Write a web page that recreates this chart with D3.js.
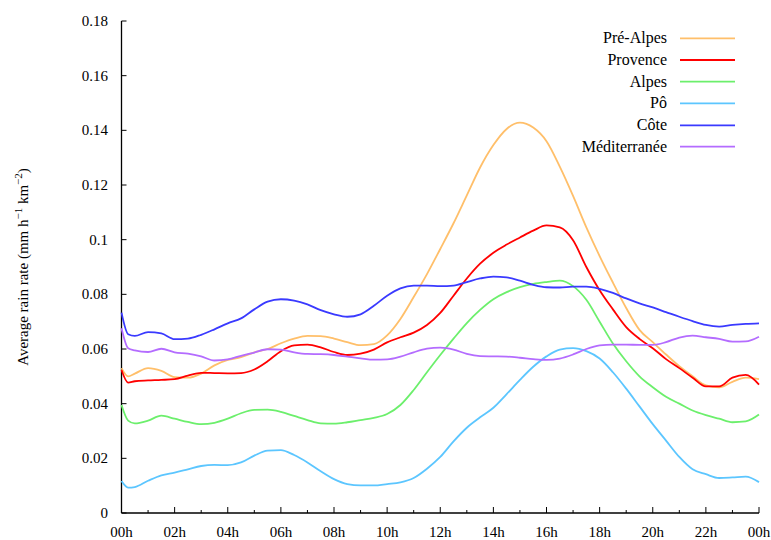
<!DOCTYPE html>
<html>
<head>
<meta charset="utf-8">
<script src="https://cdn.jsdelivr.net/npm/d3@7"></script>
<style>
  html, body { margin: 0; padding: 0; background: #fff; }
  svg { display: block; }
</style>
</head>
<body>
<svg id="chart" width="771" height="540"></svg>
<script>
// ---------- data ----------
const hours = [0, 0.25, 0.5, 1, 1.5, 2, 2.5, 3, 3.5, 4, 4.5, 5, 5.5, 6, 6.5, 7, 7.5, 8, 8.5, 9, 9.5, 10,
  10.5, 11, 11.5, 12, 12.5, 13, 13.5, 14, 14.5, 15, 15.5, 16, 16.5, 17, 17.5, 18, 18.5, 19, 19.5, 20,
  20.5, 21, 21.5, 22, 22.5, 23, 23.5, 24];

const seriesNames = ["Pré-Alpes", "Provence", "Alpes", "Pô", "Côte", "Méditerranée"];

const preAlpes = [0.053, 0.050, 0.051, 0.053, 0.052, 0.0497, 0.0495, 0.051, 0.054, 0.056, 0.057, 0.0588,
  0.060, 0.0621, 0.0638, 0.0648, 0.0647, 0.0638, 0.0625, 0.0614, 0.0618, 0.065, 0.071, 0.079, 0.0874,
  0.0966, 0.106, 0.1162, 0.1264, 0.1346, 0.1405, 0.1428, 0.141, 0.136, 0.1267, 0.116, 0.1045, 0.094,
  0.0843, 0.075, 0.067, 0.0625, 0.058, 0.0537, 0.050, 0.0467, 0.046, 0.048, 0.0495, 0.049];

const provence = [0.0523, 0.0477, 0.0482, 0.0485, 0.0487, 0.049, 0.0503, 0.0513, 0.0512, 0.0511, 0.0512,
  0.0525, 0.0555, 0.0592, 0.0613, 0.0616, 0.0606, 0.0589, 0.0578, 0.0583, 0.0598, 0.0624, 0.0643, 0.066,
  0.0688, 0.0732, 0.0795, 0.0858, 0.0912, 0.0952, 0.0982, 0.1008, 0.1033, 0.1052, 0.1045, 0.0998, 0.090,
  0.0815, 0.0745, 0.068, 0.0637, 0.0603, 0.0563, 0.053, 0.0495, 0.0463, 0.0463, 0.0495, 0.0505, 0.047];

const alpes = [0.0395, 0.0338, 0.0328, 0.0338, 0.0356, 0.0345, 0.0333, 0.0325, 0.033, 0.0345, 0.0365,
  0.0377, 0.0378, 0.037, 0.0355, 0.034, 0.0328, 0.0327, 0.0332, 0.034, 0.0348, 0.0362, 0.0395, 0.045,
  0.0515, 0.0578, 0.0638, 0.0695, 0.0743, 0.0782, 0.0808, 0.0826, 0.0838, 0.0845, 0.085, 0.083, 0.078,
  0.070, 0.062, 0.0555, 0.050, 0.046, 0.0425, 0.040, 0.0375, 0.0358, 0.0345, 0.0332, 0.0335, 0.036];

const po = [0.0117, 0.0093, 0.0095, 0.0118, 0.0138, 0.0148, 0.016, 0.0172, 0.0176, 0.0175, 0.0185, 0.021,
  0.0228, 0.023, 0.0212, 0.0185, 0.0153, 0.0124, 0.0106, 0.0101, 0.0101, 0.0106, 0.0112, 0.0128, 0.0162,
  0.0205, 0.0262, 0.0312, 0.035, 0.0385, 0.0435, 0.0487, 0.0535, 0.0573, 0.0598, 0.0603, 0.0592, 0.0565,
  0.0515, 0.0455, 0.039, 0.0325, 0.0265, 0.0205, 0.016, 0.0142, 0.0128, 0.013, 0.0133, 0.0113];

const cote = [0.0733, 0.0654, 0.0648, 0.0662, 0.0657, 0.0636, 0.0638, 0.0652, 0.0672, 0.0694, 0.0712,
  0.0745, 0.0773, 0.0782, 0.0777, 0.0763, 0.0742, 0.0727, 0.0718, 0.0727, 0.0758, 0.0795, 0.0822, 0.0832,
  0.0832, 0.083, 0.0832, 0.0845, 0.0858, 0.0865, 0.0862, 0.085, 0.0835, 0.0826, 0.0825, 0.0828, 0.0828,
  0.082, 0.0805, 0.0785, 0.0767, 0.0752, 0.0735, 0.0718, 0.0702, 0.0688, 0.0682, 0.0688, 0.0692, 0.0694];

const mediterranee = [0.0676, 0.0603, 0.0595, 0.0589, 0.0601, 0.0588, 0.0583, 0.0573, 0.0558, 0.0562,
  0.0575, 0.0587, 0.0599, 0.0598, 0.0588, 0.0582, 0.0581, 0.0578, 0.0572, 0.0566, 0.0561, 0.0562, 0.0572,
  0.0588, 0.0601, 0.0605, 0.0598, 0.0582, 0.0574, 0.0573, 0.0572, 0.0568, 0.0563, 0.056, 0.0565, 0.058,
  0.060, 0.0613, 0.0616, 0.0616, 0.0615, 0.0615, 0.0625, 0.0642, 0.0649, 0.0643, 0.0637, 0.0627, 0.0628,
  0.0645];

const xTickHours = [0, 2, 4, 6, 8, 10, 12, 14, 16, 18, 20, 22, 24];
const xTickLabels = ["00h", "02h", "04h", "06h", "08h", "10h", "12h", "14h", "16h", "18h", "20h", "22h", "00h"];
const yTickValues = [0, 0.02, 0.04, 0.06, 0.08, 0.1, 0.12, 0.14, 0.16, 0.18];
const yTickLabels = ["0", "0.02", "0.04", "0.06", "0.08", "0.1", "0.12", "0.14", "0.16", "0.18"];

const colors = ["#ffbf6a", "#ff0000", "#6cef6c", "#5cc6ff", "#3a3aff", "#b46cff"];
const allValues = [preAlpes, provence, alpes, po, cote, mediterranee];

// ---------- layout ----------
const FONT = '"Liberation Serif"';
const svg = d3.select("#chart");
const plotL = 121.5, plotR = 759, plotT = 21, plotB = 513;

const x = d3.scaleLinear().domain([0, 24]).range([plotL, plotR]);
const y = d3.scaleLinear().domain([0, 0.18]).range([plotB, plotT]);

// axes
const xAxis = svg.append("g").attr("transform", `translate(0,${plotB})`);
xAxis.append("line").attr("x1", plotL).attr("x2", plotR).attr("y1", 0).attr("y2", 0)
  .attr("stroke", "#000").attr("stroke-width", 1.3);
d3.range(1, 24, 2).forEach(h => {
  xAxis.append("line").attr("x1", x(h)).attr("x2", x(h)).attr("y1", 0).attr("y2", -3)
    .attr("stroke", "#000").attr("stroke-width", 1);
});
xTickHours.forEach((h, i) => {
  xAxis.append("line").attr("x1", x(h)).attr("x2", x(h)).attr("y1", 0).attr("y2", -6)
    .attr("stroke", "#000").attr("stroke-width", 1);
  xAxis.append("text").attr("x", x(h)).attr("y", 24).attr("text-anchor", "middle")
    .style("font-family", FONT).style("font-size", "15px").text(xTickLabels[i]);
});

const yAxis = svg.append("g");
yAxis.append("line").attr("x1", plotL).attr("x2", plotL).attr("y1", plotT).attr("y2", plotB)
  .attr("stroke", "#000").attr("stroke-width", 1.3);
yTickValues.forEach((v, i) => {
  yAxis.append("line").attr("x1", plotL).attr("x2", plotL + 5).attr("y1", y(v)).attr("y2", y(v))
    .attr("stroke", "#000").attr("stroke-width", 1);
  yAxis.append("text").attr("x", 108).attr("y", y(v) + 5).attr("text-anchor", "end")
    .style("font-family", FONT).style("font-size", "15px").text(yTickLabels[i]);
});

// y title
const yt = svg.append("text").attr("transform", "translate(28,267) rotate(-90)")
  .attr("text-anchor", "middle").style("font-family", FONT).style("font-size", "15px");
yt.append("tspan").text("Average rain rate (mm h");
yt.append("tspan").attr("baseline-shift", "super").style("font-size", "11px").text("\u22121");
yt.append("tspan").text(" km");
yt.append("tspan").attr("baseline-shift", "super").style("font-size", "11px").text("\u22122");
yt.append("tspan").text(")");

// lines
const line = d3.line().x(d => x(d[0])).y(d => y(d[1])).curve(d3.curveMonotoneX);
allValues.forEach((vals, i) => {
  const pts = hours.map((h, j) => [h, vals[j]]);
  svg.append("path").datum(pts).attr("d", line).attr("fill", "none")
    .attr("stroke", colors[i]).attr("stroke-width", 1.8);
});

// legend
const legendY = [38.3, 60, 81.7, 103.3, 125.3, 146.7];
seriesNames.forEach((name, i) => {
  svg.append("text").attr("x", 667).attr("y", legendY[i] + 5).attr("text-anchor", "end")
    .style("font-family", FONT).style("font-size", "16px").text(name);
  svg.append("line").attr("x1", 680).attr("x2", 735).attr("y1", legendY[i]).attr("y2", legendY[i])
    .attr("stroke", colors[i]).attr("stroke-width", 1.8);
});
</script>
</body>
</html>
